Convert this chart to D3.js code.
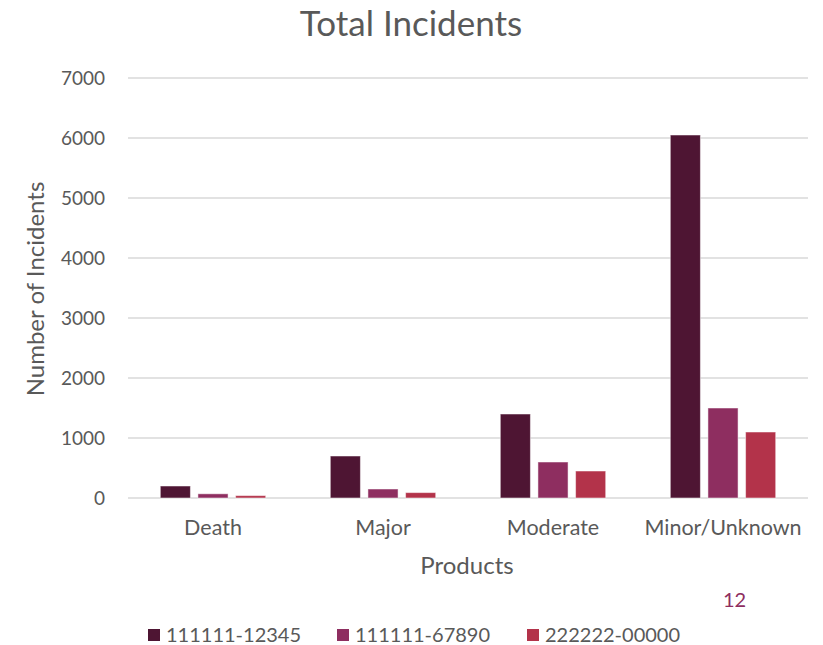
<!DOCTYPE html>
<html><head><meta charset="utf-8">
<script src="https://cdn.jsdelivr.net/npm/d3@7"></script>
<style>body{margin:0;background:#fff;} text{font-family:Lato,"Open Sans",sans-serif;}</style>
</head><body>
<svg id="c" width="823" height="645"></svg>
<script>
const categories = ["Death","Major","Moderate","Minor/Unknown"];
const seriesNames = ["111111-12345","111111-67890","222222-00000"];
const series1 = [200, 700, 1400, 6050];
const series2 = [70, 150, 600, 1500];
const series3 = [40, 90, 450, 1100];
const yTicks = [0,1000,2000,3000,4000,5000,6000,7000];
const colors = ["#4E1533","#8E2E60","#B3334A"];

const svg = d3.select("#c");
const L=128,R=808,T=78,B=498;
const x = d3.scaleBand().domain(categories).range([L,R]).paddingInner(0.38).paddingOuter(0.19);
const xs = d3.scaleBand().domain(seriesNames).range([0,x.bandwidth()]).paddingInner(0.2);
const y = d3.scaleLinear().domain([0,7000]).range([B,T]);

svg.append("text").attr("x",411).attr("y",36).attr("text-anchor","middle").attr("font-size",35).attr("fill","#595959").text("Total Incidents");

svg.append("g").selectAll("line").data(yTicks).join("line").attr("x1",L).attr("x2",R)
 .attr("y1",d=>y(d)).attr("y2",d=>y(d)).attr("stroke","#D9D9D9").attr("stroke-width",1.5);

const yAxis = d3.axisLeft(y).tickValues(yTicks).tickSize(0).tickPadding(0).tickFormat(d3.format("d"));
const ya = svg.append("g").attr("transform","translate(105,0)").call(yAxis);
ya.select(".domain").remove();
ya.selectAll("text").attr("font-size",19).attr("fill","#595959").attr("dy","0.35em").style("font-family","Lato");

const data = [series1,series2,series3];
categories.forEach((c,i)=>{
  seriesNames.forEach((s,j)=>{
    svg.append("rect").attr("x",x(c)+xs(s)).attr("width",xs.bandwidth())
      .attr("y",y(data[j][i])).attr("height",B-y(data[j][i]))
      .attr("fill",colors[j]).attr("stroke","#fff").attr("stroke-opacity",0.5).attr("stroke-width",1);
  });
});

const xAxis = d3.axisBottom(x).tickSize(0).tickPadding(0);
const xa = svg.append("g").attr("transform","translate(0,"+(B+37)+")").call(xAxis);
xa.select(".domain").remove();
xa.selectAll("text").attr("font-size",21.5).attr("fill","#595959").attr("dy","0").style("font-family","Lato");

svg.append("text").attr("x",467).attr("y",574).attr("text-anchor","middle").attr("font-size",24).attr("fill","#595959").text("Products");
svg.append("text").attr("transform","translate(44,289) rotate(-90)").attr("text-anchor","middle").attr("font-size",24).attr("fill","#595959").text("Number of Incidents");
svg.append("text").attr("x",723).attr("y",607).attr("font-size",20).attr("fill","#8E2E60").text("12");

const legX = [148,337,527];
const leg = svg.append("g").selectAll("g").data(seriesNames).join("g")
  .attr("transform",(d,i)=>"translate("+legX[i]+",629)");
leg.append("rect").attr("width",12).attr("height",12).attr("fill",(d,i)=>colors[i]);
leg.append("text").attr("x",18).attr("y",13).attr("font-size",20).attr("fill","#595959").text(d=>d);
</script></body></html>
